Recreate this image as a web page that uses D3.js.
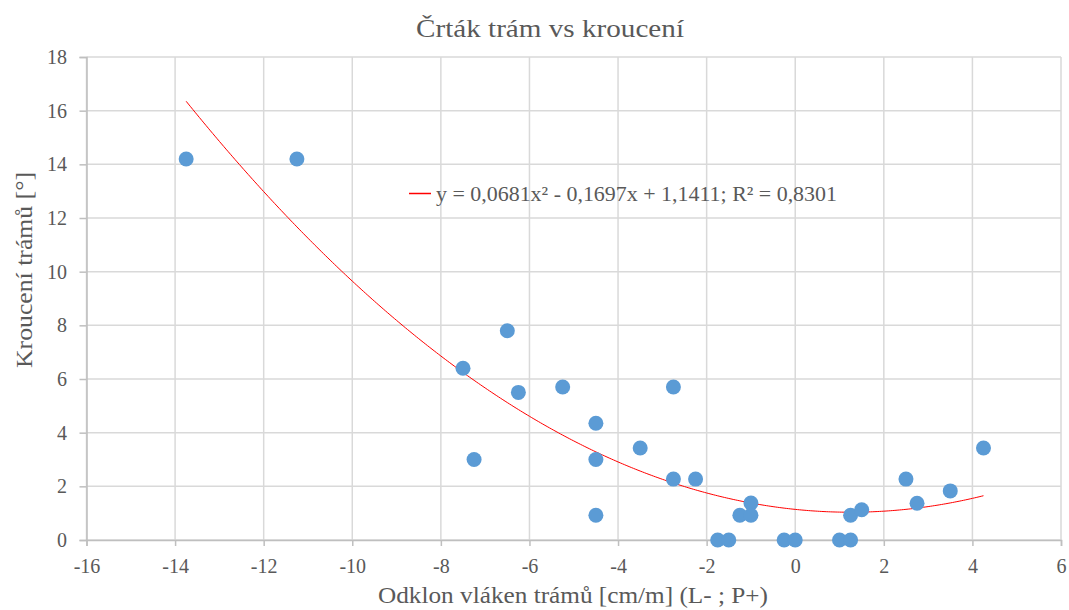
<!DOCTYPE html>
<html>
<head>
<meta charset="utf-8">
<script src="https://cdn.jsdelivr.net/npm/d3@7"></script>
<style>
  body { margin: 0; background: #fff; }
</style>
</head>
<body>
<div id="chart"></div>
<script>
// odklon vlaken [cm/m] vs kroucení [°]
const odklon = [-13.75, -11.25, -7.5, -7.25, -6.5, -6.25, -5.25, -4.5, -4.5, -4.5, -3.5, -2.75, -2.75, -2.25,
  -1.75, -1.5, -1.25, -1, -1, -0.25, 0, 1, 1.25, 1.25, 1.5, 2.5, 2.75, 3.5, 4.25]
const kroceni = [14.2, 14.2, 6.4, 3.0, 7.8, 5.5, 5.7, 4.35, 3.0, 0.92, 3.43, 5.7, 2.27, 2.27,
  0, 0, 0.92, 1.38, 0.92, 0, 0, 0, 0, 0.92, 1.13, 2.27, 1.37, 1.83, 3.43]
const xTicks = [-16, -14, -12, -10, -8, -6, -4, -2, 0, 2, 4, 6]
const yTicks = [0, 2, 4, 6, 8, 10, 12, 14, 16, 18]
const coef = [1.1411, -0.1697, 0.0681] // c0, c1, c2
const trendLabel = 'y = 0,0681x² - 0,1697x + 1,1411; R² = 0,8301'

const FONT = "'Liberation Serif', 'Times New Roman', serif"
const TXT = '#595959'

const width = 1069
const height = 610
const margin = { top: 57, right: 8, bottom: 70, left: 86.5 }
const innerW = width - margin.left - margin.right
const innerH = height - margin.top - margin.bottom

const svg = d3.select('#chart').append('svg')
  .attr('width', width)
  .attr('height', height)
  .style('font-family', FONT)

svg.append('text')
  .attr('x', 550)
  .attr('y', 37)
  .attr('text-anchor', 'middle')
  .attr('fill', TXT)
  .attr('textLength', 268)
  .attr('lengthAdjust', 'spacingAndGlyphs')
  .style('font-family', FONT)
  .style('font-size', '26px')
  .text('Črták trám vs kroucení')

const g = svg.append('g').attr('transform', `translate(${margin.left},${margin.top})`)

const x = d3.scaleLinear().domain([-16, 6]).range([0, innerW])
const y = d3.scaleLinear().domain([0, 18]).range([innerH, 0])

// grid
g.append('g')
  .selectAll('line')
  .data(xTicks)
  .join('line')
  .attr('x1', (d) => x(d)).attr('x2', (d) => x(d))
  .attr('y1', 0).attr('y2', innerH)
  .attr('stroke', '#d9d9d9').attr('stroke-width', 1.5)
g.append('g')
  .selectAll('line')
  .data(yTicks)
  .join('line')
  .attr('x1', 0).attr('x2', innerW)
  .attr('y1', (d) => y(d)).attr('y2', (d) => y(d))
  .attr('stroke', '#d9d9d9').attr('stroke-width', 1.5)

// axes
const xAxis = g.append('g')
  .attr('transform', `translate(0,${innerH})`)
  .call(d3.axisBottom(x).tickValues(xTicks).tickSize(6).tickPadding(13).tickFormat((d) => String(d).replace('−', '-')))
const yAxis = g.append('g')
  .call(d3.axisLeft(y).tickValues(yTicks).tickSize(7).tickPadding(12))

;[xAxis, yAxis].forEach((a) => {
  a.attr('font-family', null).attr('font-size', null)
  a.select('.domain').attr('stroke', '#bfbfbf').attr('stroke-width', 1.5)
  a.selectAll('.tick line').attr('stroke', '#bfbfbf').attr('stroke-width', 1.5)
  a.selectAll('.tick text')
    .attr('fill', TXT)
    .style('font-size', '20px')
    .style('font-family', FONT)
})
yAxis.selectAll('.tick text').attr('x', -19.5)

// trendline
const trendX = d3.range(d3.min(odklon), d3.max(odklon) + 0.001, 0.05)
const poly = (v) => coef[0] + coef[1] * v + coef[2] * v * v
g.append('path')
  .datum(trendX)
  .attr('fill', 'none')
  .attr('stroke', '#ff0000')
  .attr('stroke-width', 1)
  .attr('d', d3.line().x((d) => x(d)).y((d) => y(poly(d))))

// points
g.append('g')
  .selectAll('circle')
  .data(odklon.map((v, i) => [v, kroceni[i]]))
  .join('circle')
  .attr('cx', (d) => x(d[0]))
  .attr('cy', (d) => y(d[1]))
  .attr('r', 7.5)
  .attr('fill', '#5b9bd5')

// legend
const leg = svg.append('g').attr('transform', 'translate(409,193.5)')
leg.append('line').attr('x1', 0).attr('x2', 22).attr('y1', 0).attr('y2', 0)
  .attr('stroke', '#ff0000').attr('stroke-width', 1.5)
leg.append('text')
  .attr('x', 27)
  .attr('y', 7)
  .attr('fill', TXT)
  .attr('textLength', 401)
  .attr('lengthAdjust', 'spacingAndGlyphs')
  .style('font-family', FONT)
  .style('font-size', '22px')
  .text(trendLabel)

// axis titles
svg.append('text')
  .attr('x', 573)
  .attr('y', 603)
  .attr('text-anchor', 'middle')
  .attr('fill', TXT)
  .attr('textLength', 390)
  .attr('lengthAdjust', 'spacingAndGlyphs')
  .style('font-family', FONT)
  .style('font-size', '24px')
  .text('Odklon vláken trámů [cm/m] (L- ; P+)')
svg.append('text')
  .attr('transform', 'translate(32,270) rotate(-90)')
  .attr('text-anchor', 'middle')
  .attr('fill', TXT)
  .attr('textLength', 196)
  .attr('lengthAdjust', 'spacingAndGlyphs')
  .style('font-family', FONT)
  .style('font-size', '24px')
  .text('Kroucení trámů [°]')
</script>
</body>
</html>
